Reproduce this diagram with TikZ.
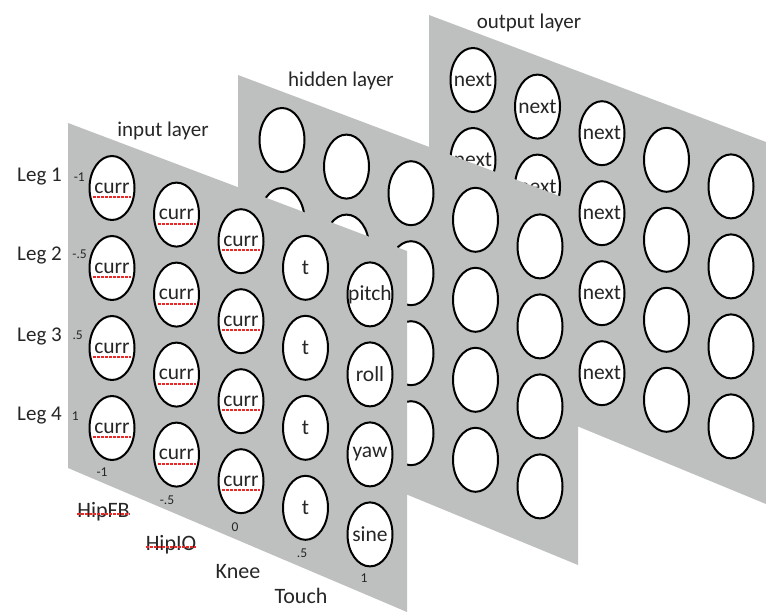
\documentclass[tikz,border=0pt]{standalone}
\usepackage{fontspec}
\setmainfont{Carlito}
\usetikzlibrary{shapes.geometric}
\definecolor{panelgray}{RGB}{190,191,191}
\definecolor{spellred}{RGB}{235,40,40}
\begin{document}
\begin{tikzpicture}[x=1pt,y=-1pt,
  panel/.style={fill=panelgray,draw=none},
  cell/.style={ellipse,draw=black,fill=white,line width=2pt,minimum width=45pt,
    minimum height=64pt,inner sep=0pt,font=\fontsize{21.5}{24}\selectfont,text=black!85},
  lbl/.style={font=\fontsize{21}{24}\selectfont,inner sep=0pt,text=black!85},
  collbl/.style={font=\fontsize{22}{25}\selectfont,inner sep=0pt,text=black!85},
  num/.style={font=\fontsize{13.5}{15}\selectfont,inner sep=0pt,text=black!85},
  spell/.style={draw=spellred,line width=1.2pt,dash pattern=on 3pt off 1pt}]
\useasboundingbox (0,0) rectangle (766,612);
% ---------------- output layer ----------------
\fill[panel] (429,15) -- (766,142) -- (766,504) -- (429,365) -- cycle;
\foreach \i in {0,...,4}{
  \foreach \j in {0,...,3}{
    \node[cell] (out-\i-\j) at ({429+44+64.5*\i},{15+65+26.6*\i+80*\j})
      {\makebox[0pt]{\ifnum\i<3 next\fi}};
  }
}
\node[lbl,anchor=base] (outlbl) at (529,29) {output layer};
% ---------------- hidden layer ----------------
\fill[panel] (238,75) -- (578,203) -- (578,565) -- (238,425) -- cycle;
\foreach \i in {0,...,4}{
  \foreach \j in {0,...,3}{
    \node[cell] (hid-\i-\j) at ({238+44+64.5*\i},{75+65+26.6*\i+80*\j}) {};
  }
}
\node[lbl,anchor=base] (hidlbl) at (341,87) {hidden layer};
% ---------------- input layer ----------------
\fill[panel] (68,123) -- (407,251) -- (407,612) -- (68,468) -- cycle;
\foreach \i in {0,1,2}{
  \foreach \j in {0,...,3}{
    \node[cell] (in-\i-\j) at ({68+44+64.5*\i},{123+65+26.6*\i+80*\j})
      {\makebox[0pt]{curr}};
  }
}
\foreach \i in {0,1,2}{
  \foreach \j in {0,...,3}{
    \pgfmathsetmacro\yc{123+65+26.6*\i+80*\j}
    \pgfmathsetmacro\dy{round(\yc+9)-\yc}
    \draw[spell] ([shift={(-19,\dy)}]in-\i-\j.center) -- ([shift={(19,\dy)}]in-\i-\j.center);
  }
}
\foreach \j in {0,...,3}{
  \node[cell] (in-3-\j) at ({68+44+64.5*3},{123+65+26.6*3+80*\j}) {\makebox[0pt]{t}};
}
\foreach \j/\w in {0/pitch,1/roll,2/yaw,3/sine}{
  \node[cell] (in-4-\j) at ({68+44+64.5*4},{123+65+26.6*4+80*\j}) {\makebox[0pt]{\w}};
}
\node[lbl,anchor=base] (inlbl) at (163,137) {input layer};
% row labels
\node[lbl,anchor=base east] (leg1) at (62,182) {Leg 1};
\node[lbl,anchor=base east] (leg2) at (62,261) {Leg 2};
\node[lbl,anchor=base east] (leg3) at (62,342) {Leg 3};
\node[lbl,anchor=base east] (leg4) at (62,420) {Leg 4};
\node[num,anchor=east] (r1) at (85,177) {-1};
\node[num,anchor=east] (r2) at (87,254) {-.5};
\node[num,anchor=east] (r3) at (83,335) {.5};
\node[num,anchor=east] (r4) at (79,416) {1};
% column scale numbers
\node[num] (c1) at (102,472) {-1};
\node[num] (c2) at (167,500) {-.5};
\node[num] (c3) at (235,527) {0};
\node[num] (c4) at (302,553) {.5};
\node[num] (c5) at (364,578) {1};
% column labels
\node[collbl,anchor=base] (hipfb) at (103.5,517) {HipFB};
\node[collbl,anchor=base] (hipio) at (171,550) {HipIO};
\node[collbl,anchor=base] (knee) at (238,578) {Knee};
\node[collbl,anchor=base] (touch) at (301,603) {Touch};
\draw[spell] ([yshift=3]hipfb.base west) -- ([yshift=3]hipfb.base east);
\draw[spell] ([yshift=3]hipio.base west) -- ([yshift=3]hipio.base east);
\end{tikzpicture}
\end{document}
